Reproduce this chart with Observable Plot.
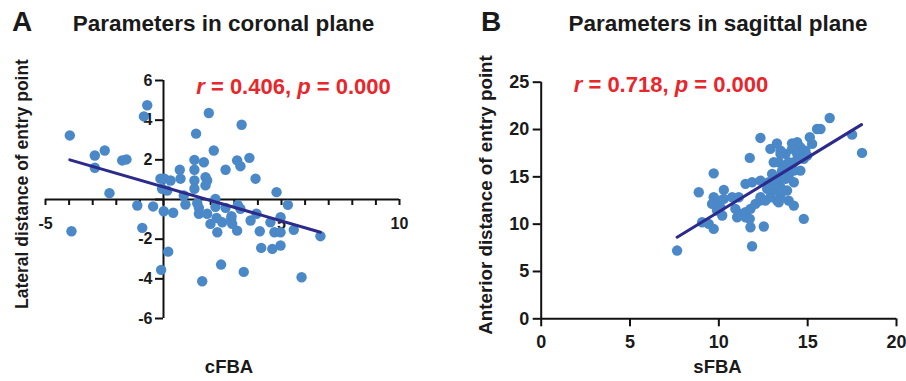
<!DOCTYPE html>
<html><head><meta charset="utf-8">
<script src="https://cdn.jsdelivr.net/npm/d3@7"></script>
<script src="https://cdn.jsdelivr.net/npm/@observablehq/plot@0.6"></script>
<style>
body{margin:0;background:#fff;}
#fig{position:relative;width:906px;height:381px;overflow:hidden;font-family:"Liberation Sans",Arial,sans-serif;font-weight:bold;color:#1a1a1a;}
.t{position:absolute;white-space:nowrap;line-height:1;}
.panel{position:absolute;top:0;}
.red{color:#e8262b;}
</style></head><body><div id="fig"></div>
<script>
// ---------- Panel A data (coronal plane) ----------
const xA = [-3.97,-0.69,-0.83,1.92,1.38,-2.49,-2.91,-2.91,-1.75,-1.57,-2.29,2.13,1.31,1.71,1.31,0.69,2.63,-0.13,0.04,0.30,0.72,1.31,1.78,1.85,1.78,-0.06,0.16,1.31,3.31,3.12,3.26,3.64,3.90,4.79,2.2,-1.11,-0.44,0.01,0.41,-3.90,-0.90,0.20,-0.10,1.64,2.44,0.86,0.93,1.43,1.50,1.50,2.2,2.63,1.99,2.28,2.49,2.87,2.91,3.12,3.15,1.85,3.4,3.26,5.27,2.25,2.88,3.69,3.94,4.08,4.53,4.96,4.70,4.96,5.52,6.65,4.14,4.61,4.96,5.85];
const yA = [3.23,4.75,4.19,4.36,3.32,2.47,2.22,1.60,1.97,2.02,0.32,2.47,2.0,1.88,1.5,1.5,1.5,1.05,1.05,0.96,1.05,0.96,1.13,0.96,0.71,0.54,0.45,0.54,3.77,1.97,1.68,2.1,1.05,0.37,0.03,-0.30,-0.35,-0.59,-0.67,-1.60,-1.43,-2.63,-3.55,-4.12,-3.28,0.2,-0.25,-0.19,-0.42,-0.72,-0.37,-0.42,-1.23,-1.65,-1.15,-0.98,-1.23,-1.57,-0.28,-0.72,-3.65,-0.47,-0.27,-0.93,-0.84,-1.06,-0.72,-1.60,-1.15,-0.89,-1.65,-1.65,-1.53,-1.85,-2.44,-2.49,-2.32,-3.92];
const fitAx = [-3.97, 6.65];
const fitAy = [2.0, -1.65];
const xTicksA = [-5,-4,-3,-2,-1,0,1,2,3,4,5,6,7,8,9,10];
const xLabelsA = [-5,5,10];
const yTicksA = [-6,-4,-2,0,2,4,6];
const yLabelsA = [-6,-4,-2,2,4,6];

// ---------- Panel B data (sagittal plane) ----------
const xB = [12.34,12.90,13.27,11.74,9.71,8.87,10.28,11.50,11.87,12.34,12.81,9.71,9.99,10.28,10.75,11.12,9.62,9.90,10.19,10.09,10.93,11.22,11.50,11.78,12.06,12.34,11.03,11.50,11.78,11.74,9.06,9.43,9.71,12.53,11.87,7.65,13.0,13.28,13.56,13.93,13.09,13.47,13.75,13.93,13.47,13.84,13.47,13.93,13.28,12.90,13.09,12.72,16.24,15.53,15.72,17.50,18.06,15.12,15.25,14.12,14.41,14.59,14.87,13.47,14.12,14.41,14.69,14.97,13.37,13.65,14.22,14.78,13.56,13.93,14.22,14.59,13.47,13.75,14.22,13.09,12.90,13.28,13.56,12.34,12.62,13.37,14.22,14.78];
const yB = [19.11,17.95,18.54,17.0,15.37,13.37,13.62,14.26,14.43,14.60,14.43,12.84,12.49,12.67,12.84,12.84,12.14,11.44,10.91,11.78,11.62,11.09,11.26,11.62,12.14,12.49,10.73,10.73,9.67,10.56,10.2,10.03,9.5,9.75,7.67,7.21,15.31,14.78,15.48,15.13,16.54,17.42,17.42,16.54,13.90,13.55,12.84,12.49,12.49,12.84,13.55,13.73,21.22,20.06,20.06,19.46,17.53,19.18,18.48,18.54,18.65,18.12,17.77,17.77,17.95,17.42,17.07,17.24,16.54,16.19,16.54,16.9,15.66,15.48,15.66,15.66,14.78,14.78,14.43,14.6,13.73,13.73,13.55,12.84,12.49,12.31,11.96,10.56];
const fitBx = [7.65, 18.03];
const fitBy = [8.62, 20.52];
const xTicksB = [0,5,10,15,20];
const yTicksB = [0,5,10,15,20,25];

const DOT = "#4a88c8", LINE = "#2c2b8c", FONT = "Liberation Sans, Arial, sans-serif";
const fig = document.getElementById("fig");

function panel(opts) {
  const {left, W, H, mL, mR, mT, mB, xd, yd, xs, ys, xTicks, xLabels, yTicks, yLabels,
         ax0, ay0, tickX, tickY, lblSize, dyX, dxY, fx, fy, xv, yv} = opts;
  const pxX = (W - mL - mR) / (xd[1] - xd[0]);
  const pxY = (H - mT - mB) / (yd[1] - yd[0]);
  const pts = xv.map((x, i) => ({x, y: yv[i]}));
  const fit = fx.map((x, i) => ({x, y: fy[i]}));
  const p = Plot.plot({
    width: W, height: H, marginLeft: mL, marginRight: mR, marginTop: mT, marginBottom: mB,
    x: {domain: xd, axis: null}, y: {domain: yd, axis: null},
    style: {fontFamily: FONT, overflow: "visible", background: "transparent"},
    marks: [
      Plot.ruleY([ay0], {y: d => d, x1: xd[0], x2: xd[1], stroke: "#111", strokeWidth: 2}),
      Plot.ruleX([ax0], {x: d => d, y1: yd[0], y2: yd[1], stroke: "#111", strokeWidth: 2}),
      Plot.ruleX(xTicks, {x: d => d, y1: ay0, y2: ay0 - tickX / pxY, stroke: "#111", strokeWidth: 2}),
      Plot.ruleY(yTicks, {y: d => d, x1: ax0, x2: ax0 - tickY / pxX, stroke: "#111", strokeWidth: 2}),
      Plot.text(xLabels, {x: d => d, y: ay0, dy: dyX, text: d => String(d), fontSize: lblSize, fontWeight: "bold", fill: "#1a1a1a"}),
      Plot.text(yLabels, {x: ax0, y: d => d, dx: dxY, text: d => String(d), textAnchor: "end", fontSize: lblSize, fontWeight: "bold", fill: "#1a1a1a"}),
      Plot.dot(pts, {x: "x", y: "y", r: 5.2, fill: DOT, stroke: "none"}),
      Plot.line(fit, {x: "x", y: "y", stroke: LINE, strokeWidth: 3})
    ]
  });
  const d = document.createElement("div");
  d.className = "panel"; d.style.left = left + "px";
  d.appendChild(p);
  fig.appendChild(d);
}

panel({left: 0, W: 453, H: 381, mL: 45, mR: 54, mT: 80, mB: 63, xd: [-5, 10], yd: [-6, 6],
  xTicks: xTicksA, xLabels: xLabelsA, yTicks: yTicksA, yLabels: yLabelsA, ax0: 0, ay0: 0,
  tickX: 6, tickY: 8, lblSize: 16, dyX: 24, dxY: -11, fx: fitAx, fy: fitAy, xv: xA, yv: yA});

panel({left: 453, W: 453, H: 381, mL: 87.7, mR: 10, mT: 81.7, mB: 62.7, xd: [0, 20], yd: [0, 25],
  xTicks: xTicksB, xLabels: xTicksB, yTicks: yTicksB, yLabels: yTicksB, ax0: 0, ay0: 0,
  tickX: 8, tickY: 8, lblSize: 18, dyX: 23.5, dxY: -12, fx: fitBx, fy: fitBy, xv: xB, yv: yB});

// ---------- HTML text ----------
function txt(html, x, baseline, size, anchor, cls) {
  const e = document.createElement("div");
  e.className = "t" + (cls ? " " + cls : "");
  e.innerHTML = html;
  e.style.fontSize = size + "px";
  e.style.left = x + "px";
  e.style.top = (baseline - 0.8465 * size) + "px";
  if (anchor === "middle") e.style.transform = "translateX(-50%)";
  fig.appendChild(e);
}
function vtxt(html, baselineX, cy, size) {
  const e = document.createElement("div");
  e.className = "t";
  e.innerHTML = html;
  e.style.fontSize = size + "px";
  const cx = baselineX - 0.3465 * size;
  e.style.left = cx + "px";
  e.style.top = cy + "px";
  e.style.transform = "translate(-50%,-50%) rotate(-90deg)";
  fig.appendChild(e);
}

txt("A", 12, 32, 28, "start");
txt("Parameters in coronal plane", 223.5, 32, 22.5, "middle");
txt("B", 481, 32, 28, "start");
txt("Parameters in sagittal plane", 718, 32, 22.5, "middle");
txt("<i>r</i> = 0.406, <i>p</i> = 0.000", 293.5, 95, 22, "middle", "red");
txt("<i>r</i> = 0.718, <i>p</i> = 0.000", 671, 92.5, 22, "middle", "red");
txt("cFBA", 229, 374, 18.5, "middle");
txt("sFBA", 717.5, 374, 18.5, "middle");
vtxt("Lateral distance of entry point", 29, 184, 17.5);
vtxt("Anterior distance of entry point", 493, 195, 18.8);
</script></body></html>
